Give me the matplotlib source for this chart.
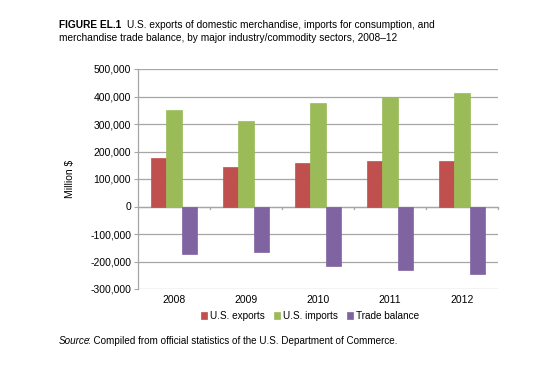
import matplotlib.pyplot as plt
import numpy as np

plt.rcParams['font.family'] = ['Liberation Sans', 'DejaVu Sans']

years = ['2008', '2009', '2010', '2011', '2012']
exports = [175000, 143000, 159000, 165000, 167000]
imports = [350000, 310000, 377000, 400000, 412000]
balance = [-173000, -165000, -215000, -232000, -244000]
series_names = ['U.S. exports', 'U.S. imports', 'Trade balance']
colors = ['#C0504D', '#9BBB59', '#8064A2']

fig = plt.figure(figsize=(5.54, 3.69), dpi=100)
ax = fig.add_axes([138 / 554, 1 - 289 / 369, 360 / 554, 220 / 369])

x = np.arange(len(years))
w = 0.215
for i, (vals, name, c) in enumerate(zip([exports, imports, balance], series_names, colors)):
    ax.bar(x + (i - 1) * w, vals, width=w, color=c, edgecolor=c, linewidth=0.5,
           label=name, zorder=3)

ax.set_xlim(-0.5, len(years) - 0.5)
ax.set_ylim(-300000, 500000)
ax.set_yticks(np.arange(-300000, 500001, 100000))
ax.set_yticklabels([f'{v:,}' for v in range(-300000, 500001, 100000)], fontsize=7.5)
ax.yaxis.grid(True, color='#A6A6A6', linewidth=0.9, zorder=0)
ax.tick_params(axis='y', length=3, color='#A6A6A6', pad=2)

# x axis sits at zero with tick marks between categories, labels at the bottom
ax.set_xticks(x)
ax.set_xticklabels(years, fontsize=7.5)
ax.tick_params(axis='x', length=0, pad=4)
for b in np.arange(-0.5, len(years), 1.0)[1:]:
    ax.plot([b, b], [0, -8000], color='#A6A6A6', linewidth=0.9, zorder=2, clip_on=False)
ax.axhline(0, color='#A6A6A6', linewidth=0.9, zorder=2)

for s in ['top', 'right', 'bottom']:
    ax.spines[s].set_visible(False)
ax.spines['left'].set_color('#A6A6A6')
ax.spines['left'].set_linewidth(0.9)

ax.set_ylabel('Million $', fontsize=7.5, labelpad=11)

fig.legend(loc='center', bbox_to_anchor=(310 / 554, 1 - 316 / 369), ncol=3, frameon=False,
           fontsize=7.2, handlelength=0.6, handleheight=0.6, handletextpad=0.3,
           columnspacing=0.9)

renderer = fig.canvas.get_renderer()


def text_after(first, rest, y, size, first_kw, gap=0):
    t = fig.text(59 / 554, y, first, fontsize=size, va='center', **first_kw)
    bb = t.get_window_extent(renderer)
    fig.text((bb.x1 + gap) / fig.bbox.width, y, rest, fontsize=size, va='center')


text_after('FIGURE EL.1', 'U.S. exports of domestic merchandise, imports for consumption, and',
           1 - 25 / 369, 7.3, {'fontweight': 'bold'}, gap=6)
fig.text(59 / 554, 1 - 38 / 369,
         'merchandise trade balance, by major industry/commodity sectors, 2008\u201312',
         fontsize=7.3, va='center')
text_after('Source', ': Compiled from official statistics of the U.S. Department of Commerce.',
           1 - 341 / 369, 7.1, {'style': 'italic'}, gap=-2)

fig.savefig('out.png', dpi=100)
